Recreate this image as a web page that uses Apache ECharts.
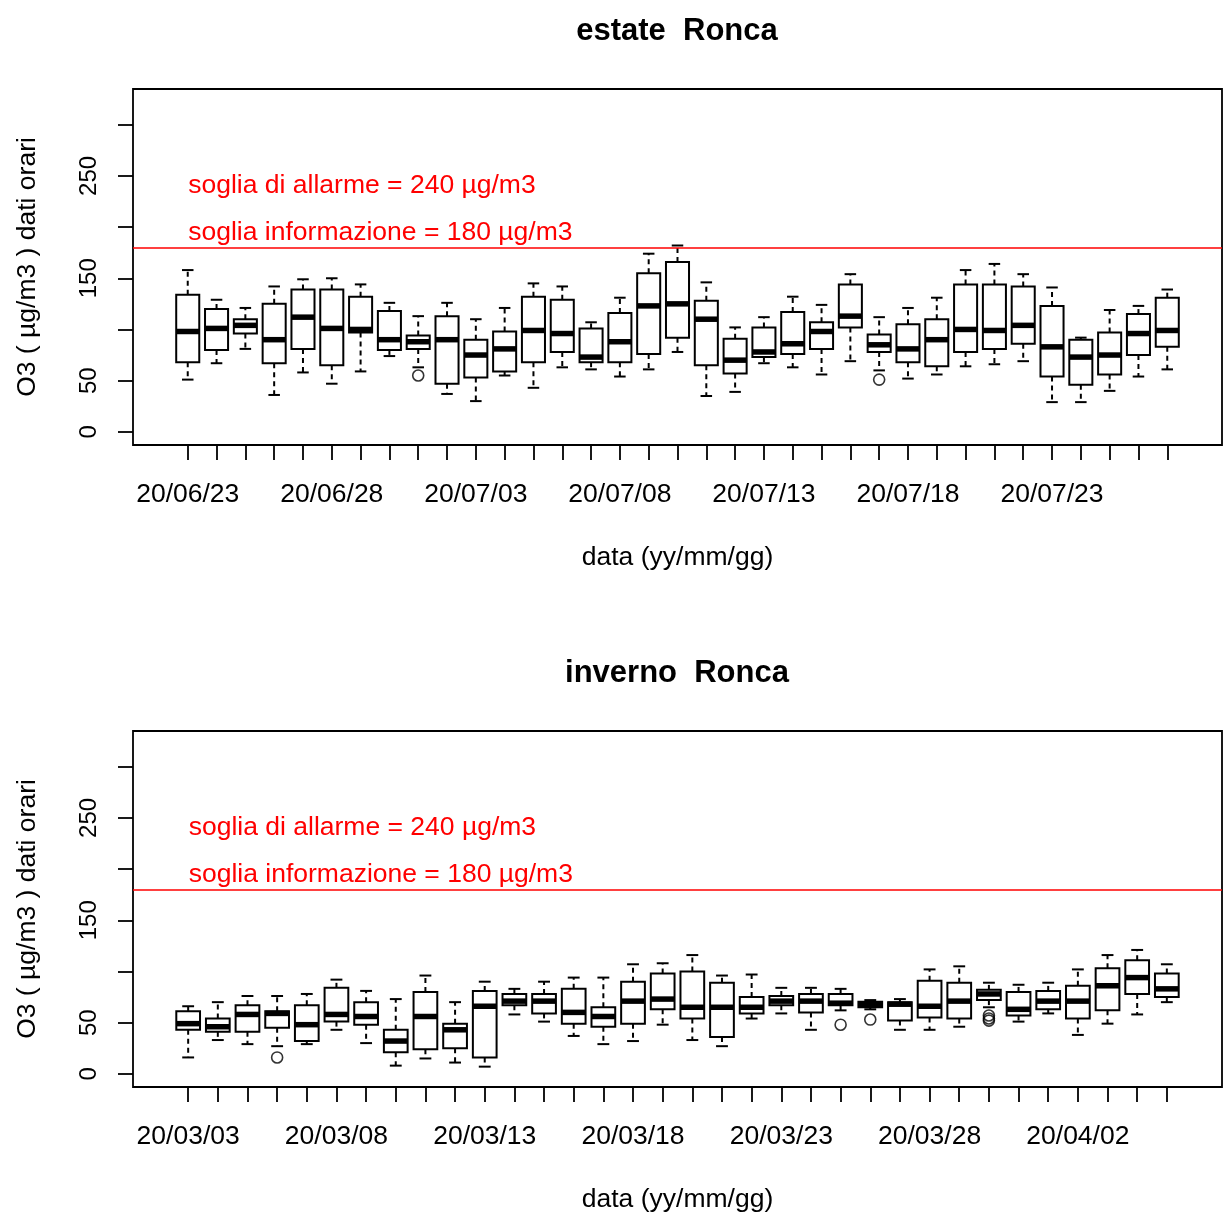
<!DOCTYPE html>
<html>
<head>
<meta charset="utf-8">
<title>O3 Ronca</title>
<script src="https://cdn.jsdelivr.net/npm/echarts@6/dist/echarts.min.js"></script>
<style>
    html, body { margin: 0; padding: 0; background: #fff; }
    #chart { width: 1223px; height: 1214px; }
</style>
</head>
<body>
<div id="chart"></div>
<script>
var summerDates = [
    '20/06/23', '20/06/24', '20/06/25', '20/06/26', '20/06/27', '20/06/28', '20/06/29', '20/06/30',
    '20/07/01', '20/07/02', '20/07/03', '20/07/04', '20/07/05', '20/07/06', '20/07/07', '20/07/08',
    '20/07/09', '20/07/10', '20/07/11', '20/07/12', '20/07/13', '20/07/14', '20/07/15', '20/07/16',
    '20/07/17', '20/07/18', '20/07/19', '20/07/20', '20/07/21', '20/07/22', '20/07/23', '20/07/24',
    '20/07/25', '20/07/26', '20/07/27'
];
var summerLow    = [51, 67, 81, 36, 58, 47, 59, 74, 63, 37, 30, 55, 43, 63, 61, 54, 61, 78, 35, 39, 67, 63, 56, 69, 60, 52, 56, 64, 66, 69, 29, 29, 40, 54, 61];
var summerQ1     = [68, 80, 96, 67, 81, 65, 97, 80, 81, 47, 53, 59, 68, 78, 68, 68, 76, 92, 65, 57, 73, 76, 81, 102, 78, 68, 64, 78, 81, 86, 54, 46, 56, 75, 83];
var summerMedian = [98, 101, 104, 90, 112, 101, 100, 90, 88, 90, 75, 81, 99, 96, 73, 88, 123, 125, 110, 70, 78, 86, 98, 113, 85, 81, 90, 100, 99, 104, 83, 73, 75, 96, 99];
var summerQ3     = [134, 120, 110, 125, 139, 139, 132, 118, 94, 113, 90, 98, 132, 129, 101, 116, 155, 166, 128, 91, 102, 117, 107, 144, 95, 105, 110, 144, 144, 142, 123, 90, 97, 115, 131];
var summerHigh   = [158, 129, 121, 142, 149, 150, 144, 126, 113, 126, 110, 121, 145, 142, 107, 131, 174, 182, 146, 102, 112, 132, 124, 154, 112, 121, 131, 158, 164, 154, 141, 92, 119, 123, 139];
var summerOutliers = [['20/07/01', 55], ['20/07/17', 51]];

var winterDates = [
    '20/03/03', '20/03/04', '20/03/05', '20/03/06', '20/03/07', '20/03/08', '20/03/09', '20/03/10',
    '20/03/11', '20/03/12', '20/03/13', '20/03/14', '20/03/15', '20/03/16', '20/03/17', '20/03/18',
    '20/03/19', '20/03/20', '20/03/21', '20/03/22', '20/03/23', '20/03/24', '20/03/25', '20/03/26',
    '20/03/27', '20/03/28', '20/03/29', '20/03/30', '20/03/31', '20/04/01', '20/04/02', '20/04/03',
    '20/04/04', '20/04/05'
];
var winterLow    = [16, 33, 29, 27, 29, 43, 30, 8, 15, 11, 7, 58, 51, 37, 29, 32, 48, 33, 27, 54, 59, 43, 62, 63, 43, 43, 46, 65, 51, 59, 38, 49, 58, 70];
var winterQ1     = [43, 41, 41, 45, 32, 51, 48, 21, 24, 25, 16, 67, 59, 49, 46, 49, 63, 54, 36, 59, 67, 60, 67, 65, 52, 55, 54, 72, 57, 63, 54, 62, 78, 75];
var winterMedian = [49, 46, 58, 59, 48, 58, 56, 32, 56, 43, 66, 71, 71, 60, 56, 71, 73, 65, 65, 65, 71, 71, 69, 67.5, 68, 66, 71, 78, 63, 71, 71, 86, 94, 83];
var winterQ3     = [61, 54, 67, 61, 67, 84, 70, 43, 80, 49, 81, 78, 78, 83, 65, 90, 98, 100, 89, 75, 76, 78, 78, 70.5, 70, 91, 89, 82, 80, 81, 86, 103, 111, 98];
var winterHigh   = [66, 70, 76, 76, 78, 92, 81, 73, 96, 70, 90, 83, 90, 94, 94, 107, 108, 116, 96, 97, 84, 84, 83, 72, 73, 102, 105, 89, 87, 89, 102, 116, 121, 107];
var winterOutliers = [['20/03/06', 16], ['20/03/25', 48], ['20/03/26', 53], ['20/03/30', 57], ['20/03/30', 54], ['20/03/30', 52]];

var yTicks = [0, 50, 100, 150, 200, 250, 300];
var yLabels = [0, 50, 150, 250];
var yLimit = [0, 322];
var sogliaInformazione = 180;
var sogliaAllarme = 240;

var FONT = '"Liberation Sans", Arial, sans-serif';

function boxData(low, q1, med, q3, high) {
    return low.map(function (v, i) {
        return [i + 1, v, q1[i], med[i], q3[i], high[i]];
    });
}

function outlierData(dates, list) {
    return list.map(function (o) {
        return [dates.indexOf(o[0]) + 1, o[1]];
    });
}

function positions(dates, step) {
    var out = [];
    for (var i = 0; i < dates.length; i += step) {
        out.push(i + 1);
    }
    return out;
}

function renderBox(params, api) {
    var x = api.value(0);
    var low = api.coord([x, api.value(1)]);
    var q1 = api.coord([x, api.value(2)]);
    var med = api.coord([x, api.value(3)]);
    var q3 = api.coord([x, api.value(4)]);
    var high = api.coord([x, api.value(5)]);
    var half = api.size([0.8, 0])[0] / 2;
    var cap = half / 2;
    var cx = low[0];

    function line(x1, y1, x2, y2, width, dash) {
        return {
            type: 'line',
            shape: { x1: x1, y1: y1, x2: x2, y2: y2 },
            style: { stroke: '#000', lineWidth: width, lineDash: dash || null }
        };
    }

    return {
        type: 'group',
        children: [
            line(cx, q3[1], cx, high[1], 2, [5, 4]),
            line(cx, q1[1], cx, low[1], 2, [5, 4]),
            line(cx - cap, high[1], cx + cap, high[1], 2),
            line(cx - cap, low[1], cx + cap, low[1], 2),
            {
                type: 'rect',
                shape: { x: cx - half, y: q3[1], width: half * 2, height: q1[1] - q3[1] },
                style: { stroke: '#000', lineWidth: 2, fill: 'none' }
            },
            line(cx - half, med[1], cx + half, med[1], 5.5)
        ]
    };
}

function buildPanel(idx, top, title, dates, data, outliers) {
    var n = dates.length;
    var pad = 0.04 * n;
    var yPad = 0.04 * (yLimit[1] - yLimit[0]);

    return {
        title: {
            text: title,
            left: 677,
            top: top - 73,
            textAlign: 'center',
            padding: 0,
            textStyle: { fontFamily: FONT, fontSize: 31, fontWeight: 'bold', color: '#000' }
        },
        grid: {
            left: 133, top: top, width: 1089, height: 356,
            show: true, borderColor: '#000', borderWidth: 1.8, backgroundColor: 'transparent'
        },
        xAxis: {
            type: 'value', gridIndex: idx,
            min: 0.5 - pad, max: n + 0.5 + pad,
            axisLine: { show: false, onZero: false },
            axisTick: { show: true, length: 15, customValues: positions(dates, 1), lineStyle: { color: '#000', width: 1.8 } },
            axisLabel: {
                customValues: positions(dates, 5),
                formatter: function (v) { return dates[v - 1]; },
                margin: 36, fontFamily: FONT, fontSize: 26.5, color: '#000'
            },
            splitLine: { show: false },
            name: 'data (yy/mm/gg)',
            nameLocation: 'middle',
            nameGap: 99,
            nameMoveOverlap: false,
            nameTextStyle: { fontFamily: FONT, fontSize: 26.5, color: '#000' }
        },
        yAxis: {
            type: 'value', gridIndex: idx,
            min: yLimit[0] - yPad, max: yLimit[1] + yPad,
            axisLine: { show: false, onZero: false },
            axisTick: { show: true, length: 15, customValues: yTicks, lineStyle: { color: '#000', width: 1.8 } },
            axisLabel: { customValues: yLabels, rotate: 90, margin: 32, fontFamily: FONT, fontSize: 24, color: '#000' },
            splitLine: { show: false },
            name: 'O3 ( µg/m3 ) dati orari',
            nameLocation: 'middle',
            nameRotate: 90,
            nameGap: 92,
            nameMoveOverlap: false,
            nameTextStyle: { fontFamily: FONT, fontSize: 26.5, color: '#000' }
        },
        series: [
            {
                type: 'custom',
                xAxisIndex: idx, yAxisIndex: idx,
                renderItem: renderBox,
                encode: { x: 0, y: [1, 2, 3, 4, 5] },
                data: data,
                silent: true,
                markLine: {
                    silent: true,
                    symbol: 'none',
                    label: { show: false },
                    lineStyle: { color: '#ff0000', width: 1.6, type: 'solid' },
                    data: [{ yAxis: sogliaInformazione }]
                },
                markPoint: {
                    silent: true,
                    symbol: 'circle',
                    symbolSize: 1,
                    itemStyle: { color: 'transparent' },
                    label: { show: true, position: 'right', distance: 0, fontFamily: FONT, fontSize: 26.5, color: '#ff0000' },
                    data: [
                        { coord: [1, sogliaAllarme], label: { formatter: 'soglia di allarme = ' + sogliaAllarme + ' µg/m3' } },
                        { coord: [1, sogliaInformazione + 15], label: { formatter: 'soglia informazione = ' + sogliaInformazione + ' µg/m3' } }
                    ]
                }
            },
            {
                type: 'scatter',
                xAxisIndex: idx, yAxisIndex: idx,
                symbol: 'circle',
                symbolSize: 11,
                itemStyle: { color: 'transparent', borderColor: '#000', borderWidth: 1.6 },
                data: outlierData(dates, outliers),
                silent: true
            }
        ]
    };
}

var summer = buildPanel(0, 89, 'estate  Ronca', summerDates,
    boxData(summerLow, summerQ1, summerMedian, summerQ3, summerHigh), summerOutliers);
var winter = buildPanel(1, 731, 'inverno  Ronca', winterDates,
    boxData(winterLow, winterQ1, winterMedian, winterQ3, winterHigh), winterOutliers);

var chart = echarts.init(document.getElementById('chart'), null, { renderer: 'canvas' });
chart.setOption({
    backgroundColor: '#fff',
    animation: false,
    title: [summer.title, winter.title],
    grid: [summer.grid, winter.grid],
    xAxis: [summer.xAxis, winter.xAxis],
    yAxis: [summer.yAxis, winter.yAxis],
    series: summer.series.concat(winter.series)
});
</script>
</body>
</html>
